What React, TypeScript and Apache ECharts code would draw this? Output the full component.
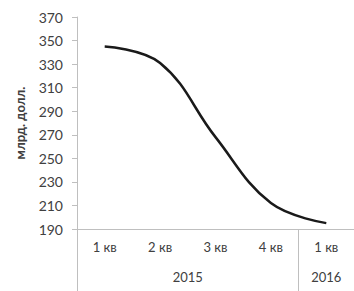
import React, { useEffect, useRef } from "react";
import * as echarts from "echarts";

const quarters = ["1 кв", "2 кв", "3 кв", "4 кв", "1 кв"];
const values = [345, 331, 268, 212, 195];
const years = ["2015", "2016"];
const yearCenters = [2, 4.5];
const yearBounds = [0, 4, 5];
const yTicks = { min: 190, max: 370, interval: 20 };

const FONT = "Lato";
const TEXT = "#404040";
const AXIS = "#bfbfbf";

export default function App() {
  const ref = useRef<HTMLDivElement>(null);
  useEffect(() => {
    const chart = echarts.init(ref.current!, undefined, { renderer: "svg" });
    chart.setOption({
      animation: false,
      grid: { left: 77, right: -4, top: 17, bottom: 62 },
      xAxis: [
        {
          type: "category",
          data: quarters,
          boundaryGap: true,
          axisLine: { lineStyle: { color: AXIS, width: 1 } },
          axisTick: { interval: 0, length: 33, lineStyle: { color: AXIS } },
          axisLabel: { interval: 0, margin: 11, fontFamily: FONT, fontSize: 13, color: TEXT },
        },
        {
          type: "value",
          min: 0,
          max: 5,
          position: "bottom",
          splitLine: { show: false },
          axisLine: { show: false },
          axisTick: { show: true, customValues: yearBounds, length: 62, lineStyle: { color: AXIS } },
          axisLabel: {
            show: true,
            customValues: yearCenters,
            margin: 41,
            fontFamily: FONT,
            fontSize: 13,
            color: TEXT,
            formatter: (v: number) => years[yearCenters.indexOf(v)] ?? "",
          },
        },
      ],
      yAxis: {
        type: "value",
        min: yTicks.min,
        max: yTicks.max,
        interval: yTicks.interval,
        name: "млрд. долл.",
        nameLocation: "middle",
        nameGap: 51,
        nameRotate: 90,
        nameTextStyle: { fontFamily: FONT, fontSize: 13, fontWeight: "bold", color: TEXT },
        splitLine: { show: false },
        axisLine: { show: true, lineStyle: { color: AXIS, width: 1 } },
        axisTick: { show: true, length: 5, lineStyle: { color: AXIS } },
        axisLabel: { margin: 14, fontFamily: FONT, fontSize: 14, color: TEXT },
      },
      series: [
        {
          type: "line",
          xAxisIndex: 0,
          data: values,
          smooth: 0.4,
          symbol: "none",
          lineStyle: { color: "#1a1a1a", width: 2.5 },
        },
      ],
    });
    return () => chart.dispose();
  }, []);
  return <div ref={ref} style={{ width: 354, height: 291, position: "absolute", left: 0, top: 0 }} />;
}
